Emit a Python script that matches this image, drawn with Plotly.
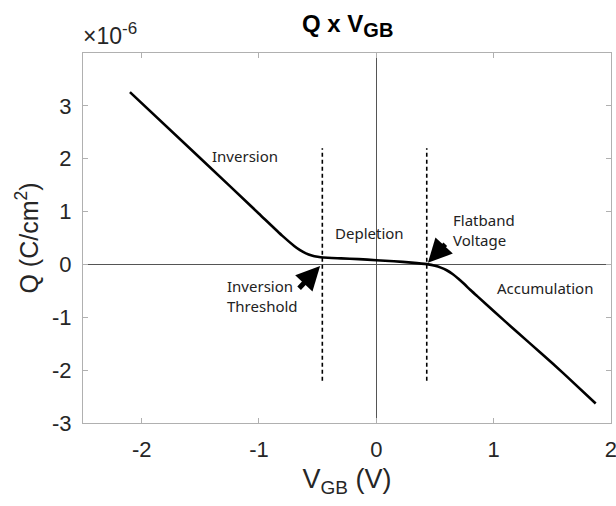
import plotly.graph_objects as go

# Gate-body voltage (V) and charge Q (in units of 1e-6 C/cm^2)
v_gb = [-2.1, -1.5, -1.0, -0.8, -0.7, -0.65, -0.6, -0.55, -0.5, -0.45, -0.3, -0.15,
        0.0, 0.15, 0.3, 0.43, 0.5, 0.55, 0.6, 0.65, 0.7, 0.75, 0.8, 0.86,
        1.0, 1.2, 1.4, 1.6, 1.87]
q_e6 = [3.26, 2.01, 0.96, 0.54, 0.35, 0.27, 0.21, 0.17, 0.145, 0.13, 0.115, 0.10,
        0.08, 0.06, 0.035, 0.005, -0.025, -0.06, -0.11, -0.18, -0.27, -0.37, -0.48, -0.60,
        -0.88, -1.28, -1.67, -2.07, -2.63]

# Region boundaries (V) and dashed-line extent
v_threshold = -0.46
v_flatband = 0.43
dash_q = [-2.2, 2.2]

x_ticks = [-2, -1, 0, 1, 2]
y_ticks = [-3, -2, -1, 0, 1, 2, 3]

TXT = "#262626"
AXC = "#b0b0b0"
ann_font = dict(family="Noto Sans", size=15, color="#222")

fig = go.Figure()
fig.add_trace(go.Scatter(x=v_gb, y=q_e6, mode="lines",
                         line=dict(color="black", width=2.6, shape="spline", smoothing=0.5),
                         showlegend=False, hoverinfo="skip"))
for v in (v_threshold, v_flatband):
    fig.add_trace(go.Scatter(x=[v, v], y=dash_q, mode="lines",
                             line=dict(color="black", width=1.6, dash="4px,3px"),
                             showlegend=False, hoverinfo="skip"))

annotations = [
    dict(x=0.5, y=1, xref="paper", yref="paper", yanchor="bottom", yshift=10,
         text='<b>Q x V<sub><span style="font-size:20px">GB</span></sub></b>', showarrow=False,
         font=dict(family="Liberation Sans", size=24, color="black")),
    dict(x=0, y=1, xref="paper", yref="paper", xanchor="left", yanchor="bottom", yshift=2, xshift=-2,
         text='×10<sup><span style="font-size:17px">-6</span></sup>', showarrow=False,
         font=dict(family="Liberation Sans", size=23, color=TXT)),
    dict(x=-1.12, y=2.06, text="Inversion", showarrow=False, font=ann_font),
    dict(x=-0.06, y=0.6, text="Depletion", showarrow=False, font=ann_font),
    dict(x=0.64, y=0.66, text="Flatband<br>Voltage", showarrow=False, font=ann_font,
         xanchor="left", align="left"),
    dict(x=1.44, y=-0.45, text="Accumulation", showarrow=False, font=ann_font),
    dict(x=-1.29, y=-0.6, text="Inversion<br>Threshold", showarrow=False, font=ann_font,
         xanchor="left", align="left"),
    # arrows
    dict(x=-0.479, y=-0.03, ax=-0.67, ay=-0.48, axref="x", ayref="y", text="",
         showarrow=True, arrowhead=2, arrowsize=0.95, arrowwidth=5, arrowcolor="black"),
    dict(x=0.44, y=0.03, ax=0.60, ay=0.41, axref="x", ayref="y", text="",
         showarrow=True, arrowhead=2, arrowsize=0.95, arrowwidth=5, arrowcolor="black"),
]

axis_common = dict(showgrid=False, ticks="inside", ticklen=5, tickcolor=AXC,
                   showline=True, linecolor=AXC, linewidth=1.2, mirror="ticks",
                   zeroline=True, zerolinecolor="#555", zerolinewidth=1.2,
                   ticklabeloverflow="allow", automargin=False,
                   tickfont=dict(family="Liberation Sans", size=22, color=TXT))

fig.update_layout(
    width=616, height=506,
    margin=dict(l=83, r=5, t=53, b=83, autoexpand=False),
    plot_bgcolor="white", paper_bgcolor="white",
    xaxis=dict(range=[-2.5, 2.0005], tickvals=x_ticks, ticktext=[str(t) for t in x_ticks],
               ticklabelstandoff=6,
               title=dict(text='V<sub><span style="font-size:19px">GB</span></sub> (V)', standoff=8,
                          font=dict(family="Liberation Sans", size=27, color=TXT)),
               **axis_common),
    yaxis=dict(range=[-3, 4], tickvals=y_ticks, ticktext=[str(t) for t in y_ticks],
               ticklabelstandoff=6,
               title=dict(text="Q (C/cm<sup>2</sup>)", standoff=6,
                          font=dict(family="Liberation Sans", size=25, color=TXT)),
               **axis_common),
    annotations=annotations,
)

fig.write_html("out.html")
